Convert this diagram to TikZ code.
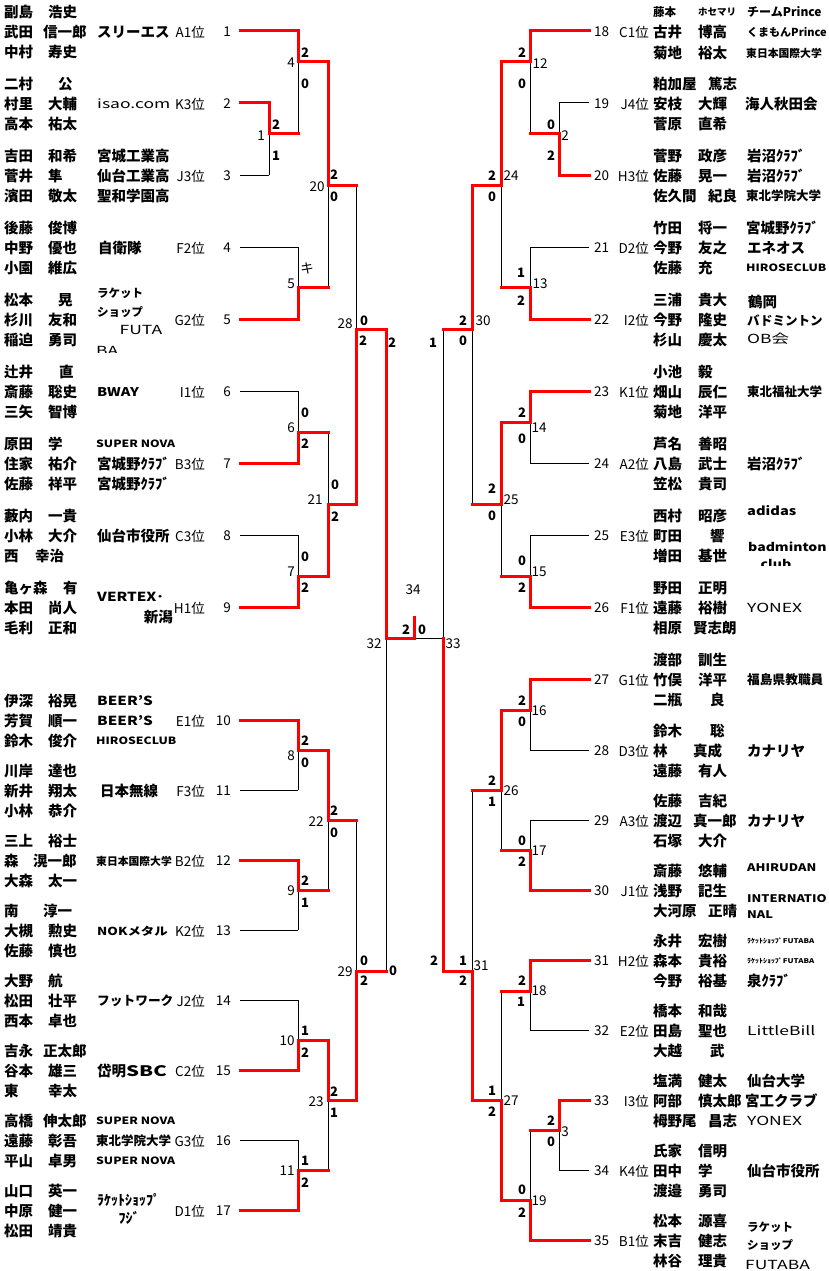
\documentclass[tikz,border=0pt]{standalone}
\usepackage{fontspec}
\setmainfont{Noto Sans CJK JP}
\newfontfamily\widefont[FakeStretch=1.4]{Noto Sans CJK JP}
\newfontfamily\wideboldfont[FakeStretch=1.22]{Noto Sans CJK JP}

\tikzset{
  winline/.style={red, line width=3pt, line cap=rect},
  loseline/.style={black, line width=1pt},
  nm/.style={anchor=west, inner sep=0pt, font=\fontsize{14.5}{15}\selectfont\bfseries},
  smb/.style={anchor=west, inner sep=0pt, font=\fontsize{#1}{#1}\selectfont\bfseries},
  wd/.style={anchor=west, inner sep=0pt, font=\widefont\fontsize{#1}{#1}\selectfont},
  wdb/.style={anchor=west, inner sep=0pt, font=\wideboldfont\fontsize{#1}{#1}\selectfont\bfseries},
  rk/.style={inner sep=0pt, font=\fontsize{13.5}{14}\selectfont},
  sc/.style={inner sep=0pt, font=\fontsize{13}{13}\selectfont\bfseries},
}

% 試合: x / 上 / 下 / 出力 / 勝者 / 次の列
\def\matchlist{269/103/175/134/103/298, 298/31/134/62/31/328, 298/247/319/287/319/328,
  328/62/287/185/62/356, 298/391/463/432/463/328, 298/535/607/576/607/328,
  328/432/576/504/576/356, 356/185/504/329/504/386, 298/720/790/750/720/328,
  298/860/930/890/860/328, 328/750/890/820/750/356, 298/1000/1070/1040/1070/328,
  298/1140/1210/1170/1210/328, 328/1040/1170/1100/1040/356, 356/820/1100/971/1100/386,
  559/103/175/134/175/530, 530/31/134/62/31/501, 530/247/319/287/319/501,
  501/62/287/185/62/472, 530/391/463/422/391/501, 530/535/607/576/607/501,
  501/422/576/504/422/472, 472/185/504/329/185/443, 530/679/750/710/679/501,
  530/820/890/850/890/501, 501/710/850/790/710/472, 530/960/1030/991/960/501,
  559/1100/1170/1130/1100/530, 530/1130/1240/1200/1240/501, 501/991/1200/1100/1200/472,
  472/790/1100/971/1100/443}

\begin{document}
\begin{tikzpicture}[x=1pt, y=-1pt]
    \useasboundingbox (0,0) rectangle (829,1271);

    % 負けた線 (黒)
    \foreach \y/\xe in {175/269, 247/298, 391/298, 535/298, 790/298, 930/298, 1000/298, 1140/298}
        \draw[loseline] (240,\y) -- (\xe,\y);
    \foreach \y/\xe in {103/559, 247/530, 463/530, 535/530, 750/530, 820/530, 1030/530, 1170/559}
        \draw[loseline] (589,\y) -- (\xe,\y);
    \foreach \x/\t/\b/\o/\w/\n in \matchlist
        \draw[loseline] (\x,\t) -- (\x,\b);
    \draw[loseline] (386,329) -- (386,971);
    \draw[loseline] (443,329) -- (443,971);
    \draw[loseline] (414,638) -- (443,638);

    % 勝ち上がりの線 (赤)
    \foreach \y/\xe in {31/298, 103/269, 319/298, 463/298, 607/298, 720/298, 860/298, 1070/298, 1210/298}
        \draw[winline] (240,\y) -- (\xe,\y);
    \foreach \y/\xe in {31/530, 175/559, 319/530, 391/530, 607/530, 679/530, 890/530, 960/530, 1100/559, 1240/530}
        \draw[winline] (589,\y) -- (\xe,\y);
    \foreach \x/\t/\b/\o/\w/\n in \matchlist
        \draw[winline] (\x,\w) -- (\x,\o) -- (\n,\o);
    \draw[winline] (386,329) -- (386,638) -- (414,638) -- (414,617);
    \draw[winline] (443,971) -- (443,638);

    % 試合番号
    \foreach \x/\y/\m [count=\i] in {291/63/4, 261/136/1, 317/187/20, 291/284/5, 345/324/28, 374/644/32,
        291/428/6, 315/500/21, 291/572/7, 291/756/8, 316/822/22, 291/891/9, 345/972/29,
        287/1041/10, 316/1102/23, 287/1171/11, 540/64/12, 565/136/2, 511/176/24, 540/284/13,
        483/321/30, 539/428/14, 511/500/25, 539/572/15, 453/644/33, 539/711/16, 511/791/26,
        539/851/17, 481/966/31, 539/991/18, 511/1101/27, 565/1132/3, 539/1201/19, 413/590/34}
        \node[rk] (m\i) at (\x,\y) {\m};

    % 得点
    \foreach \x/\y/\s [count=\i] in {305/53/2, 305/84/0, 276/125/2, 276/156/1, 334/175/2, 334/197/0,
        364/321/0, 363/341/2, 392/343/2, 393/971/0, 305/413/0, 305/444/2, 335/485/0, 335/517/2,
        305/557/0, 305/588/2, 305/741/2, 305/763/0, 334/811/2, 334/833/0, 305/881/2, 305/903/1,
        364/961/0, 364/981/2, 305/1031/1, 305/1053/2, 334/1092/2, 334/1113/1, 305/1161/1, 305/1183/2,
        406/630/2, 422/630/0,
        522/53/2, 522/84/0, 551/125/0, 551/156/2, 492/176/2, 492/197/0, 521/273/1, 521/301/2,
        463/321/2, 463/341/0, 522/413/2, 522/439/0, 492/489/2, 492/516/0, 522/561/0, 522/588/2,
        433/343/1, 434/961/2, 522/701/2, 522/722/0, 492/781/2, 492/802/1, 522/841/0, 522/862/2,
        463/961/1, 463/981/2, 522/981/2, 521/1002/1, 492/1091/1, 492/1112/2, 551/1121/2, 551/1142/0,
        522/1190/0, 522/1213/2}
        \node[sc] (s\i) at (\x,\y) {\s};
    \node[rk] (kiken) at (307,268) {キ};

    % 順位と番号 (左)
    \foreach \y/\r/\n [count=\i] in {32/A1位/1, 104/K3位/2, 176/J3位/3, 248/F2位/4, 320/G2位/5,
        392/I1位/6, 464/B3位/7, 536/C3位/8, 608/H1位/9, 721/E1位/10, 791/F3位/11, 861/B2位/12,
        931/K2位/13, 1001/J2位/14, 1071/C2位/15, 1141/G3位/16, 1211/D1位/17}
    {
        \node[rk, anchor=east] (lr\i) at (205,\y) {\r};
        \node[rk, anchor=east] (ln\i) at (231,\y) {\n};
    }
    % 順位と番号 (右)
    \foreach \y/\r/\n [count=\i] in {32/C1位/18, 104/J4位/19, 176/H3位/20, 248/D2位/21, 320/I2位/22,
        392/K1位/23, 464/A2位/24, 536/E3位/25, 608/F1位/26, 680/G1位/27, 751/D3位/28, 821/A3位/29,
        891/J1位/30, 961/H2位/31, 1031/E2位/32, 1101/I3位/33, 1171/K4位/34, 1241/B1位/35}
    {
        \node[rk, anchor=west] (rn\i) at (594,\y) {\n};
        \node[rk, anchor=east] (rr\i) at (649,\y) {\r};
    }

    % 選手名 (左)
    \foreach \y/\s/\gx/\g [count=\i] in {12/副島/48/浩史, 32/武田/43/信一郎, 52/中村/48/寿史,
        84/二村/58/公, 104/村里/48/大輔, 124/高本/48/祐太,
        156/吉田/48/和希, 176/菅井/48/隼, 196/濱田/48/敬太,
        228/後藤/48/俊博, 248/中野/48/優也, 268/小園/48/維広,
        300/松本/58/晃, 320/杉川/48/友和, 340/稲迫/48/勇司,
        372/辻井/59/直, 392/斎藤/48/聡史, 412/三矢/48/智博,
        444/原田/48/学, 464/住家/48/祐介, 484/佐藤/48/祥平,
        516/藪内/48/一貴, 536/小林/48/大介, 556/西/35/幸治,
        588/亀ヶ森/63/有, 608/本田/48/尚人, 628/毛利/48/正和,
        701/伊深/48/裕晃, 721/芳賀/48/順一, 741/鈴木/48/俊介,
        771/川岸/48/達也, 791/新井/48/翔太, 811/小林/48/恭介,
        841/三上/48/裕士, 861/森/33/滉一郎, 881/大森/48/太一,
        911/南/43/淳一, 931/大槻/48/勲史, 951/佐藤/48/慎也,
        981/大野/48/航, 1001/松田/48/壮平, 1021/西本/48/卓也,
        1051/吉永/43/正太郎, 1071/谷本/48/雄三, 1091/東/48/幸太,
        1121/高橋/43/伸太郎, 1141/遠藤/48/彰吾, 1161/平山/48/卓男,
        1191/山口/48/英一, 1211/中原/48/健一, 1231/松田/48/靖貴}
    {
        \node[nm] (lsur\i) at (4,\y) {\s};
        \node[nm] (lgiv\i) at (\gx,\y) {\g};
    }

    % 選手名 (右)
    \node[smb=11.5] (rsur0) at (653,12) {藤本};
    \node[smb=9.5] (rgiv0) at (698,12) {ホセマリ};
    \foreach \y/\s/\gx/\g [count=\i] in {32/古井/698/博高, 53/菊地/698/裕太,
        84/粕加屋/708/篤志, 104/安枝/698/大輝, 124/菅原/698/直希,
        156/菅野/698/政彦, 176/佐藤/698/晃一, 196/佐久間/708/紀良,
        228/竹田/698/将一, 248/今野/698/友之, 268/佐藤/698/充,
        300/三浦/698/貴大, 320/今野/698/隆史, 340/杉山/698/慶太,
        372/小池/698/毅, 392/畑山/698/辰仁, 412/菊地/698/洋平,
        444/芦名/698/善昭, 464/八島/698/武士, 484/笠松/698/貴司,
        516/西村/698/昭彦, 536/町田/710/響, 556/増田/698/基世,
        588/野田/698/正明, 608/遠藤/698/裕樹, 628/相原/693/賢志朗,
        660/渡部/698/訓生, 680/竹俣/698/洋平, 700/二瓶/710/良,
        731/鈴木/710/聡, 751/林/693/真成, 771/遠藤/698/有人,
        801/佐藤/698/吉紀, 821/渡辺/693/真一郎, 841/石塚/698/大介,
        871/斎藤/698/悠輔, 891/浅野/698/記生, 911/大河原/708/正晴,
        941/永井/698/宏樹, 961/森本/698/貴裕, 981/今野/698/裕基,
        1011/橋本/698/和哉, 1031/田島/698/聖也, 1051/大越/710/武,
        1081/塩満/698/健太, 1101/阿部/698/慎太郎, 1121/栂野尾/708/昌志,
        1151/氏家/698/信明, 1171/田中/698/学, 1191/渡邉/698/勇司,
        1221/松本/698/源喜, 1241/末吉/698/健志, 1261/林谷/698/理貴}
    {
        \node[nm] (rsur\i) at (653,\y) {\s};
        \node[nm] (rgiv\i) at (\gx,\y) {\g};
    }

    % 所属 (左)
    \node[nm] (t1) at (97,32) {スリーエス};
    \node[wd=12.5] (t2) at (97,104) {isao.com};
    \node[nm] (t3a) at (97,156) {宮城工業高};
    \node[nm] (t3b) at (97,176) {仙台工業高};
    \node[nm] (t3c) at (97,196) {聖和学園高};
    \node[nm] (t4) at (98,248) {自衛隊};
    \node[smb=11.5] (t5a) at (97,293) {ラケット};
    \node[smb=11.5] (t5b) at (97,312) {ショップ};
    \node[wd=12.5, anchor=center] (t5c) at (141,330) {FUTA};
    \begin{scope}
        \clip (90,340) rectangle (180,352);
        \node[wd=12.5, anchor=north west] (t5d) at (96,346.5) {BA};
    \end{scope}
    \node[wdb=12] (t6) at (97,392) {BWAY};
    \node[wdb=10] (t7a) at (96,444) {SUPER NOVA};
    \node[nm] (t7b) at (97,464) {宮城野ｸﾗﾌﾞ};
    \node[nm] (t7c) at (97,484) {宮城野ｸﾗﾌﾞ};
    \node[nm] (t8) at (97,536) {仙台市役所};
    \node[wdb=12.5] (t9a) at (97,597) {VERTEX･};
    \node[nm, anchor=east] (t9b) at (173,617) {新潟};
    \node[wdb=12.5] (t10a) at (97,701) {BEER’S};
    \node[wdb=12.5] (t10b) at (97,721) {BEER’S};
    \node[wdb=10] (t10c) at (96,741) {HIROSECLUB};
    \node[nm] (t11) at (100,791) {日本無線};
    \node[smb=10.8] (t12) at (96,861) {東日本国際大学};
    \node[wdb=11] (t13) at (97,931) {NOKメタル};
    \node[smb=12.7] (t14) at (97,1001) {フットワーク};
    \node[nm] (t15) at (97,1071) {岱明{\widefont SBC}};
    \node[wdb=10] (t16a) at (96,1121) {SUPER NOVA};
    \node[smb=12.5] (t16b) at (96,1141) {東北学院大学};
    \node[wdb=10] (t16c) at (96,1161) {SUPER NOVA};
    \node[smb=14] (t17a) at (97,1200) {ﾗｹｯﾄｼｮｯﾌﾟ};
    \node[smb=14, anchor=center] (t17b) at (129,1218) {ﾌｼﾞ};

    % 所属 (右)
    \node[smb=12] (t18a) at (747,12) {チームPrince};
    \node[smb=11] (t18b) at (747,32) {くまもんPrince};
    \node[smb=10.8] (t18c) at (746,53) {東日本国際大学};
    \node[nm] (t19) at (745,104) {海人秋田会};
    \node[nm] (t20a) at (747,156) {岩沼ｸﾗﾌﾞ};
    \node[nm] (t20b) at (747,176) {岩沼ｸﾗﾌﾞ};
    \node[smb=12.5] (t20c) at (746,196) {東北学院大学};
    \node[nm] (t21a) at (746,228) {宮城野ｸﾗﾌﾞ};
    \node[nm] (t21b) at (747,248) {エネオス};
    \node[wdb=10] (t21c) at (746,268) {HIROSECLUB};
    \node[nm] (t22a) at (748,302) {鶴岡};
    \node[smb=12.5] (t22b) at (747,321) {バドミントン};
    \node[wd=12.5] (t22c) at (747,339) {OB会};
    \node[smb=12.5] (t23) at (747,392) {東北福祉大学};
    \node[nm] (t24) at (747,464) {岩沼ｸﾗﾌﾞ};
    \node[wdb=12] (t25a) at (747,511) {adidas};
    \node[wdb=11.5] (t25b) at (748,547) {badminton};
    \begin{scope}
        \clip (740,555) rectangle (829,565);
        \node[wdb=11.5, anchor=north] (t25c) at (776,559) {club};
    \end{scope}
    \node[wd=12.5] (t26) at (747,608) {YONEX};
    \node[smb=12.7] (t27) at (747,680) {福島県教職員};
    \node[nm] (t28) at (747,751) {カナリヤ};
    \node[nm] (t29) at (747,821) {カナリヤ};
    \node[wdb=10.5] (t30a) at (747,868) {AHIRUDAN};
    \node[wdb=10.5] (t30b) at (747,899) {INTERNATIO};
    \node[wdb=10.5] (t30c) at (747,915) {NAL};
    \node[wdb=6.5] (t31a) at (747,941) {ﾗｹｯﾄｼｮｯﾌﾟFUTABA};
    \node[wdb=6.5] (t31b) at (747,961) {ﾗｹｯﾄｼｮｯﾌﾟFUTABA};
    \node[nm] (t31c) at (747,981) {泉ｸﾗﾌﾞ};
    \node[wd=12.5] (t32) at (747,1031) {LittleBill};
    \node[nm] (t33a) at (747,1081) {仙台大学};
    \node[nm] (t33b) at (745,1101) {宮工クラブ};
    \node[wd=12.5] (t33c) at (747,1121) {YONEX};
    \node[nm] (t34) at (747,1171) {仙台市役所};
    \node[smb=11.5] (t35a) at (747,1227) {ラケット};
    \node[smb=11.5] (t35b) at (747,1245) {ショップ};
    \node[wd=12.5] (t35c) at (745,1265) {FUTABA};
\end{tikzpicture}
\end{document}
